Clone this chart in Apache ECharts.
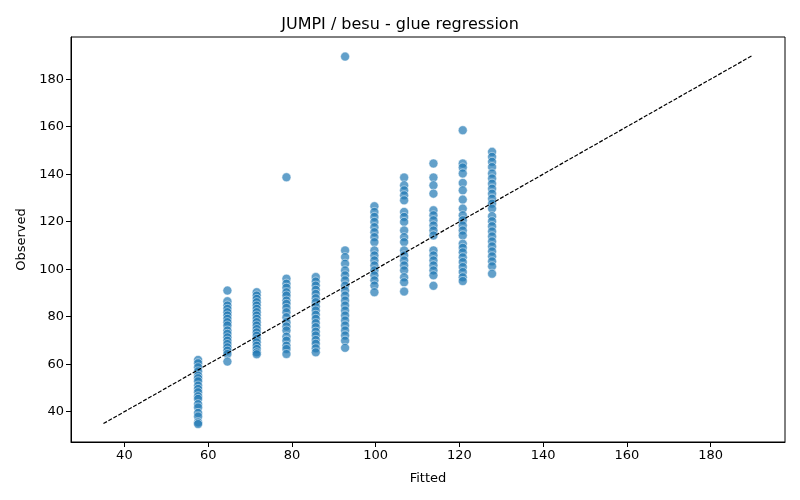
<!DOCTYPE html>
<html>
<head>
<meta charset="utf-8">
<script src="https://cdn.jsdelivr.net/npm/echarts@6/dist/echarts.min.js"></script>
<style>
  html, body { margin: 0; padding: 0; background: #fff; }
  #chart { width: 800px; height: 500px; }
</style>
</head>
<body>
<div id="chart"></div>
<script>
var fitted = [57.6, 64.6, 71.6, 78.7, 85.7, 92.7, 99.7, 106.8, 113.8, 120.8, 127.8]

var obs1 = [61.8, 60.4, 58.7, 57.0, 55.2, 54.1, 52.8, 51.0, 49.6, 48.2, 46.5, 45.4, 43.2, 41.8, 39.5, 38.0, 35.5, 34.8]
var obs2 = [91.0, 86.5, 84.7, 83.3, 81.9, 80.5, 79.1, 77.7, 76.3, 74.2, 72.8, 71.3, 69.9, 68.5, 67.1, 65.7, 64.3, 61.1]
var obs3 = [90.3, 88.9, 87.5, 86.1, 84.7, 83.3, 81.9, 80.5, 79.1, 77.7, 76.3, 74.8, 73.4, 72.0, 70.6, 69.2, 67.8, 66.4, 65.0, 64.2]
var obs4 = [138.7, 96.0, 93.9, 92.2, 90.3, 88.9, 86.8, 85.4, 83.7, 81.9, 79.8, 77.7, 75.9, 74.2, 71.6, 69.9, 67.8, 66.4, 64.3]
var obs5 = [96.7, 94.8, 93.1, 91.3, 89.6, 87.8, 86.1, 84.3, 82.6, 80.8, 79.1, 77.3, 75.6, 73.7, 72.1, 70.2, 68.6, 66.7, 65.0]
var obs6 = [189.5, 107.9, 105.1, 102.3, 99.5, 97.4, 95.3, 93.1, 91.0, 88.9, 86.8, 84.7, 82.6, 80.5, 78.4, 76.3, 74.2, 72.1, 69.9, 66.9]
var obs7 = [126.5, 124.1, 122.0, 119.9, 117.7, 115.6, 113.5, 111.4, 107.9, 105.8, 103.7, 101.6, 99.5, 97.4, 95.3, 93.1, 90.3]
var obs8 = [138.6, 135.3, 133.2, 131.1, 129.0, 124.1, 122.0, 119.9, 116.3, 113.5, 111.4, 107.9, 105.8, 103.7, 101.6, 99.5, 96.6, 94.5, 90.6]
var obs9 = [144.5, 138.6, 135.3, 131.8, 124.8, 122.7, 120.6, 118.4, 116.3, 114.2, 107.9, 105.8, 103.7, 101.6, 99.5, 97.4, 93.0]
var obs10 = [158.5, 144.5, 142.8, 140.3, 136.3, 133.2, 129.3, 125.5, 122.7, 120.6, 118.4, 116.3, 114.2, 110.7, 109.0, 107.1, 105.0, 103.0, 100.9, 98.8, 96.6, 95.0]
var obs11 = [149.4, 147.3, 145.2, 143.0, 140.3, 138.2, 136.0, 133.9, 131.8, 129.7, 127.6, 125.5, 122.3, 120.2, 118.1, 115.9, 113.8, 111.7, 109.6, 107.5, 105.4, 103.3, 101.2, 98.1]

// identity reference line ends
var lineEnds = [35, 190]

var xTicks = [40, 60, 80, 100, 120, 140, 160, 180]
var yTicks = [40, 60, 80, 100, 120, 140, 160, 180]

var groups = [obs1, obs2, obs3, obs4, obs5, obs6, obs7, obs8, obs9, obs10, obs11]
var points = []
groups.forEach(function (g, i) {
    g.forEach(function (v) {
        points.push([fitted[i], v])
    })
})
var linePts = lineEnds.map(function (v) { return [v, v] })

var chart = echarts.init(document.getElementById('chart'))
var font = 'DejaVu Sans'

function axisCommon(ticks, name, gap, rot) {
    return {
        type: 'value',
        min: 27.25,
        max: 197.75,
        name: name,
        nameLocation: 'middle',
        nameGap: gap,
        nameRotate: rot,
        nameTextStyle: { fontFamily: font, fontSize: 13, color: '#000' },
        axisLine: { show: true, onZero: false, lineStyle: { color: '#000', width: 1 } },
        axisTick: { show: true, length: 5, customValues: ticks, lineStyle: { color: '#000' } },
        axisLabel: { customValues: ticks, fontFamily: font, fontSize: 13, color: '#000', margin: 7 },
        splitLine: { show: false }
    }
}

var option = {
    animation: false,
    title: {
        text: 'JUMPI / besu - glue regression',
        left: 'center',
        top: 12,
        textStyle: { fontFamily: font, fontSize: 16, fontWeight: 'normal', color: '#000' }
    },
    grid: {
        left: 71, right: 15, top: 37, bottom: 58,
        show: true, borderColor: '#000', borderWidth: 1
    },
    xAxis: axisCommon(xTicks, 'Fitted', 30, 0),
    yAxis: axisCommon(yTicks, 'Observed', 42, 90),
    series: [
        {
            type: 'scatter',
            data: points,
            symbolSize: 9,
            itemStyle: { color: '#1f77b4', opacity: 0.7, borderColor: '#fff', borderWidth: 0.7 },
            z: 2
        },
        {
            type: 'line',
            data: linePts,
            symbol: 'none',
            lineStyle: { color: '#000', width: 1.2, type: [4, 1.7] },
            z: 3
        }
    ]
}
chart.setOption(option)
</script>
</body>
</html>
